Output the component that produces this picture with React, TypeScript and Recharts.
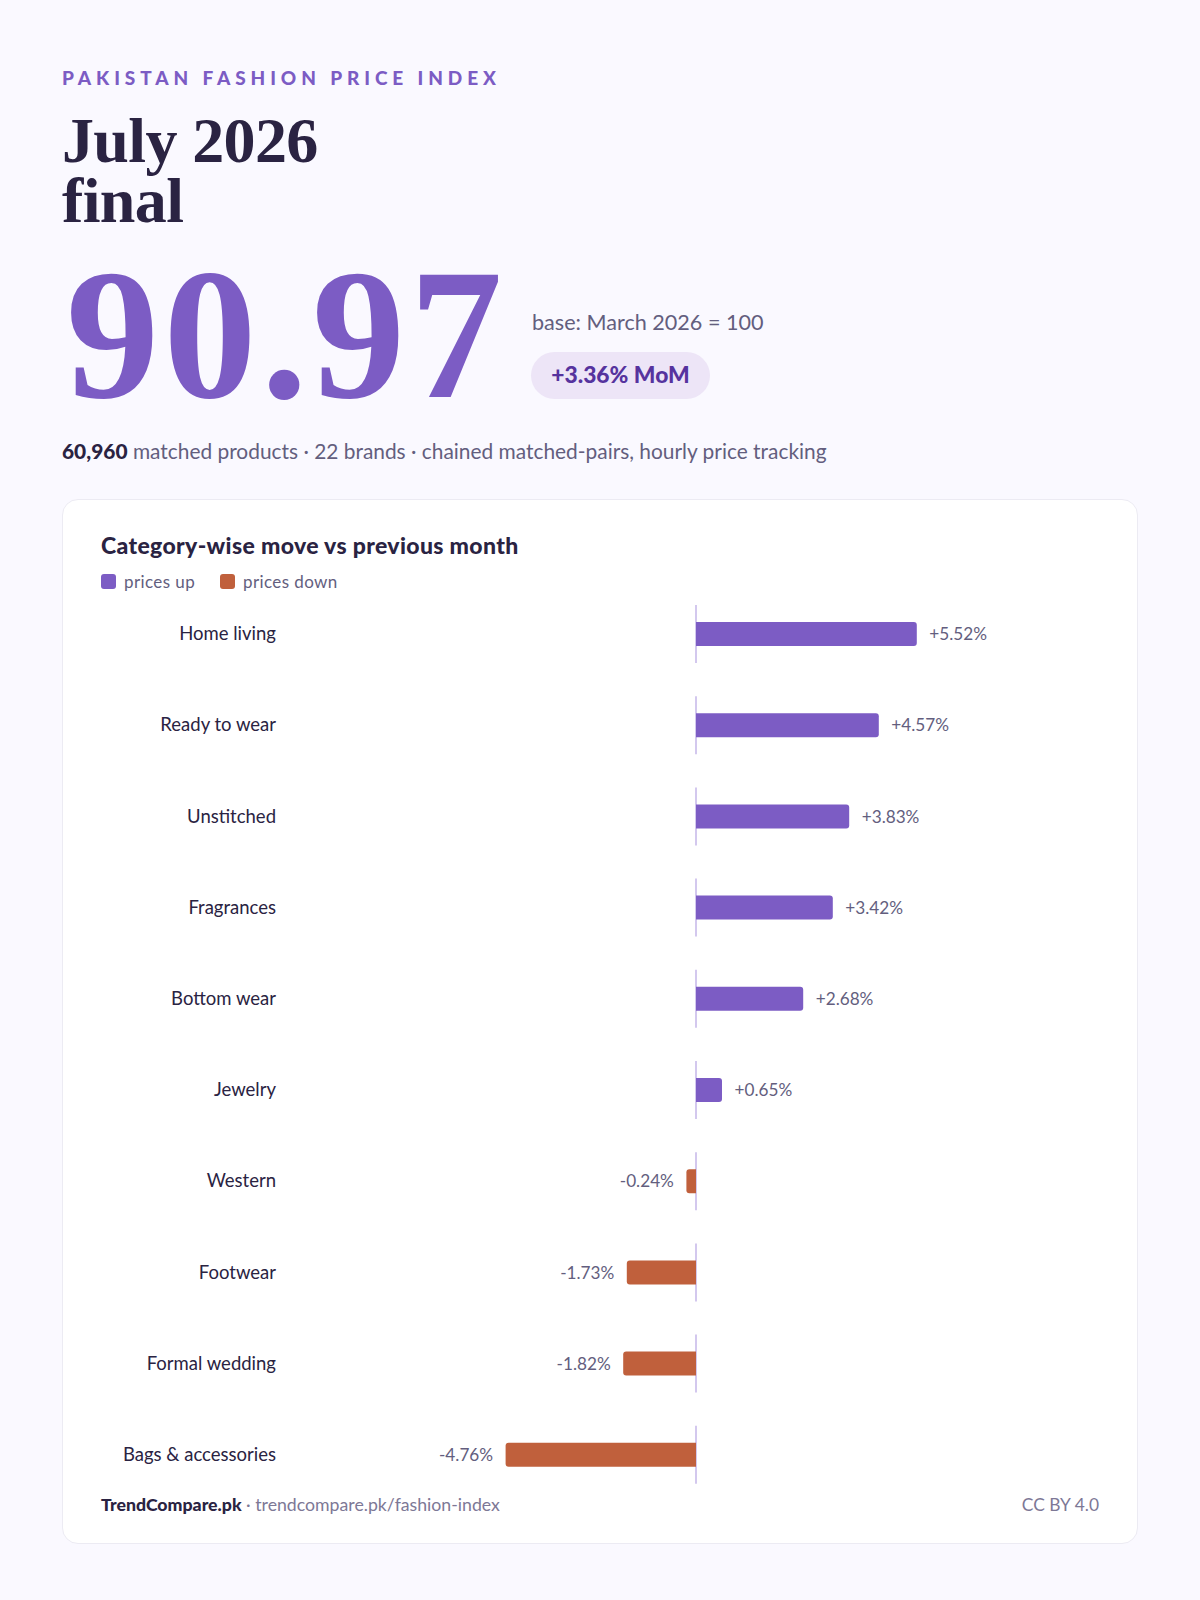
import { Bar, BarChart, LabelList, XAxis, YAxis } from 'recharts';

const CATEGORIES = ['Home living', 'Ready to wear', 'Unstitched', 'Fragrances', 'Bottom wear', 'Jewelry', 'Western', 'Footwear', 'Formal wedding', 'Bags & accessories'];
const MOVES = [5.52, 4.57, 3.83, 3.42, 2.68, 0.65, -0.24, -1.73, -1.82, -4.76];
const X_DOMAIN = [-10, 10];

const UP = '#7c5cc4';
const DOWN = '#c0603c';
const INK = '#2a2342';
const MUTED = '#635e7e';
const SANS = 'Lato, sans-serif';
const SERIF = '"Liberation Serif", serif';

const rows = CATEGORIES.map((category, i) => ({ category, move: MOVES[i] }));

const fmtMove = (v: number) => (v > 0 ? '+' : '') + v.toFixed(2) + '%';

// bar with rounded outer end, plus the little zero tick behind it
function MoveBar(props: any) {
  const { x, y, width, height, payload } = props;
  const left = Math.min(x, x + width);
  const w = Math.abs(width);
  const up = payload.move >= 0;
  const zero = up ? left : left + w;
  const mid = y + height / 2;
  const r = Math.min(3, w);
  const d = up
    ? `M${left},${y}H${left + w - r}Q${left + w},${y} ${left + w},${y + r}V${y + height - r}Q${left + w},${y + height} ${left + w - r},${y + height}H${left}Z`
    : `M${left + w},${y}H${left + r}Q${left},${y} ${left},${y + r}V${y + height - r}Q${left},${y + height} ${left + r},${y + height}H${left + w}Z`;
  return (
    <g>
      <line x1={zero} x2={zero} y1={mid - 29} y2={mid + 29} stroke="#c5b6e8" strokeWidth={1.5} />
      <path d={d} fill={up ? UP : DOWN} />
    </g>
  );
}

function Abs({ x, y, style, children }: any) {
  return <div style={{ position: 'absolute', left: x, top: y, whiteSpace: 'nowrap', ...style }}>{children}</div>;
}

export default function App() {
  return (
    <div style={{ position: 'absolute', left: 0, top: 0, width: 1200, height: 1600, background: '#faf9ff', fontFamily: SANS, overflow: 'hidden' }}>
      <Abs x={62} y={66} style={{ fontSize: 19, lineHeight: '24px', fontWeight: 900, letterSpacing: '4.9px', color: UP }}>PAKISTAN FASHION PRICE INDEX</Abs>
      <Abs x={62} y={111} style={{ fontFamily: SERIF, fontSize: 64, lineHeight: '60px', fontWeight: 700, letterSpacing: '-0.01em', color: INK }}>
        July 2026
        <br />
        final
      </Abs>
      <Abs x={66} y={264} style={{ fontFamily: SERIF, fontSize: 186, lineHeight: '140px', fontWeight: 700, letterSpacing: '4.5px', color: UP }}>90.97</Abs>
      <Abs x={532} y={308} style={{ fontSize: 21.6, lineHeight: '28px', color: MUTED }}>base: March 2026 = 100</Abs>
      <div style={{ position: 'absolute', left: 531, top: 352, width: 179, height: 47, borderRadius: 24, background: '#ede5f7', color: '#56339e', fontSize: 22.8, fontWeight: 900, lineHeight: '45px', textAlign: 'center' }}>+3.36% MoM</div>
      <Abs x={62} y={437} style={{ fontSize: 20.9, lineHeight: '28px', color: MUTED }}>
        <b style={{ color: INK, fontWeight: 900 }}>60,960</b> matched products · 22 brands · chained matched-pairs, hourly price tracking
      </Abs>

      <div style={{ position: 'absolute', left: 62, top: 499, width: 1074, height: 1043, background: '#fff', border: '1px solid #ecebf3', borderRadius: 16 }} />
      <Abs x={101} y={530} style={{ fontSize: 23, lineHeight: '30px', fontWeight: 900, letterSpacing: '0.35px', color: INK }}>Category-wise move vs previous month</Abs>

      <div style={{ position: 'absolute', left: 101, top: 574, width: 15, height: 15, borderRadius: 3, background: UP }} />
      <Abs x={124} y={571} style={{ fontSize: 17, lineHeight: '21px', letterSpacing: '0.4px', color: MUTED }}>prices up</Abs>
      <div style={{ position: 'absolute', left: 220, top: 574, width: 15, height: 15, borderRadius: 3, background: DOWN }} />
      <Abs x={243} y={571} style={{ fontSize: 17, lineHeight: '21px', letterSpacing: '0.4px', color: MUTED }}>prices down</Abs>

      <div style={{ position: 'absolute', left: 62, top: 588 }}>
        <BarChart width={1075} height={912} data={rows} layout="vertical" margin={{ top: 0, right: 41, bottom: 0, left: 0 }}>
          <XAxis type="number" domain={X_DOMAIN} hide />
          <YAxis
            type="category"
            dataKey="category"
            width={234}
            axisLine={false}
            tickLine={false}
            tickMargin={14}
            interval={0}
            tick={{ fontSize: 18.5, fill: INK, fontFamily: SANS }}
          />
          <Bar dataKey="move" barSize={24} shape={MoveBar} isAnimationActive={false}>
            <LabelList dataKey="move" position="right" offset={12.5} formatter={fmtMove} style={{ fontSize: 17.2, fill: MUTED, fontFamily: SANS }} />
          </Bar>
        </BarChart>
      </div>

      <Abs x={101} y={1494} style={{ fontSize: 17.7, lineHeight: '22px', color: '#7d7896' }}>
        <b style={{ color: INK, fontWeight: 900 }}>TrendCompare.pk</b> · trendcompare.pk/fashion-index
      </Abs>
      <div style={{ position: 'absolute', right: 101, top: 1494, fontSize: 17.4, lineHeight: '22px', color: '#7d7896' }}>CC BY 4.0</div>
    </div>
  );
}
